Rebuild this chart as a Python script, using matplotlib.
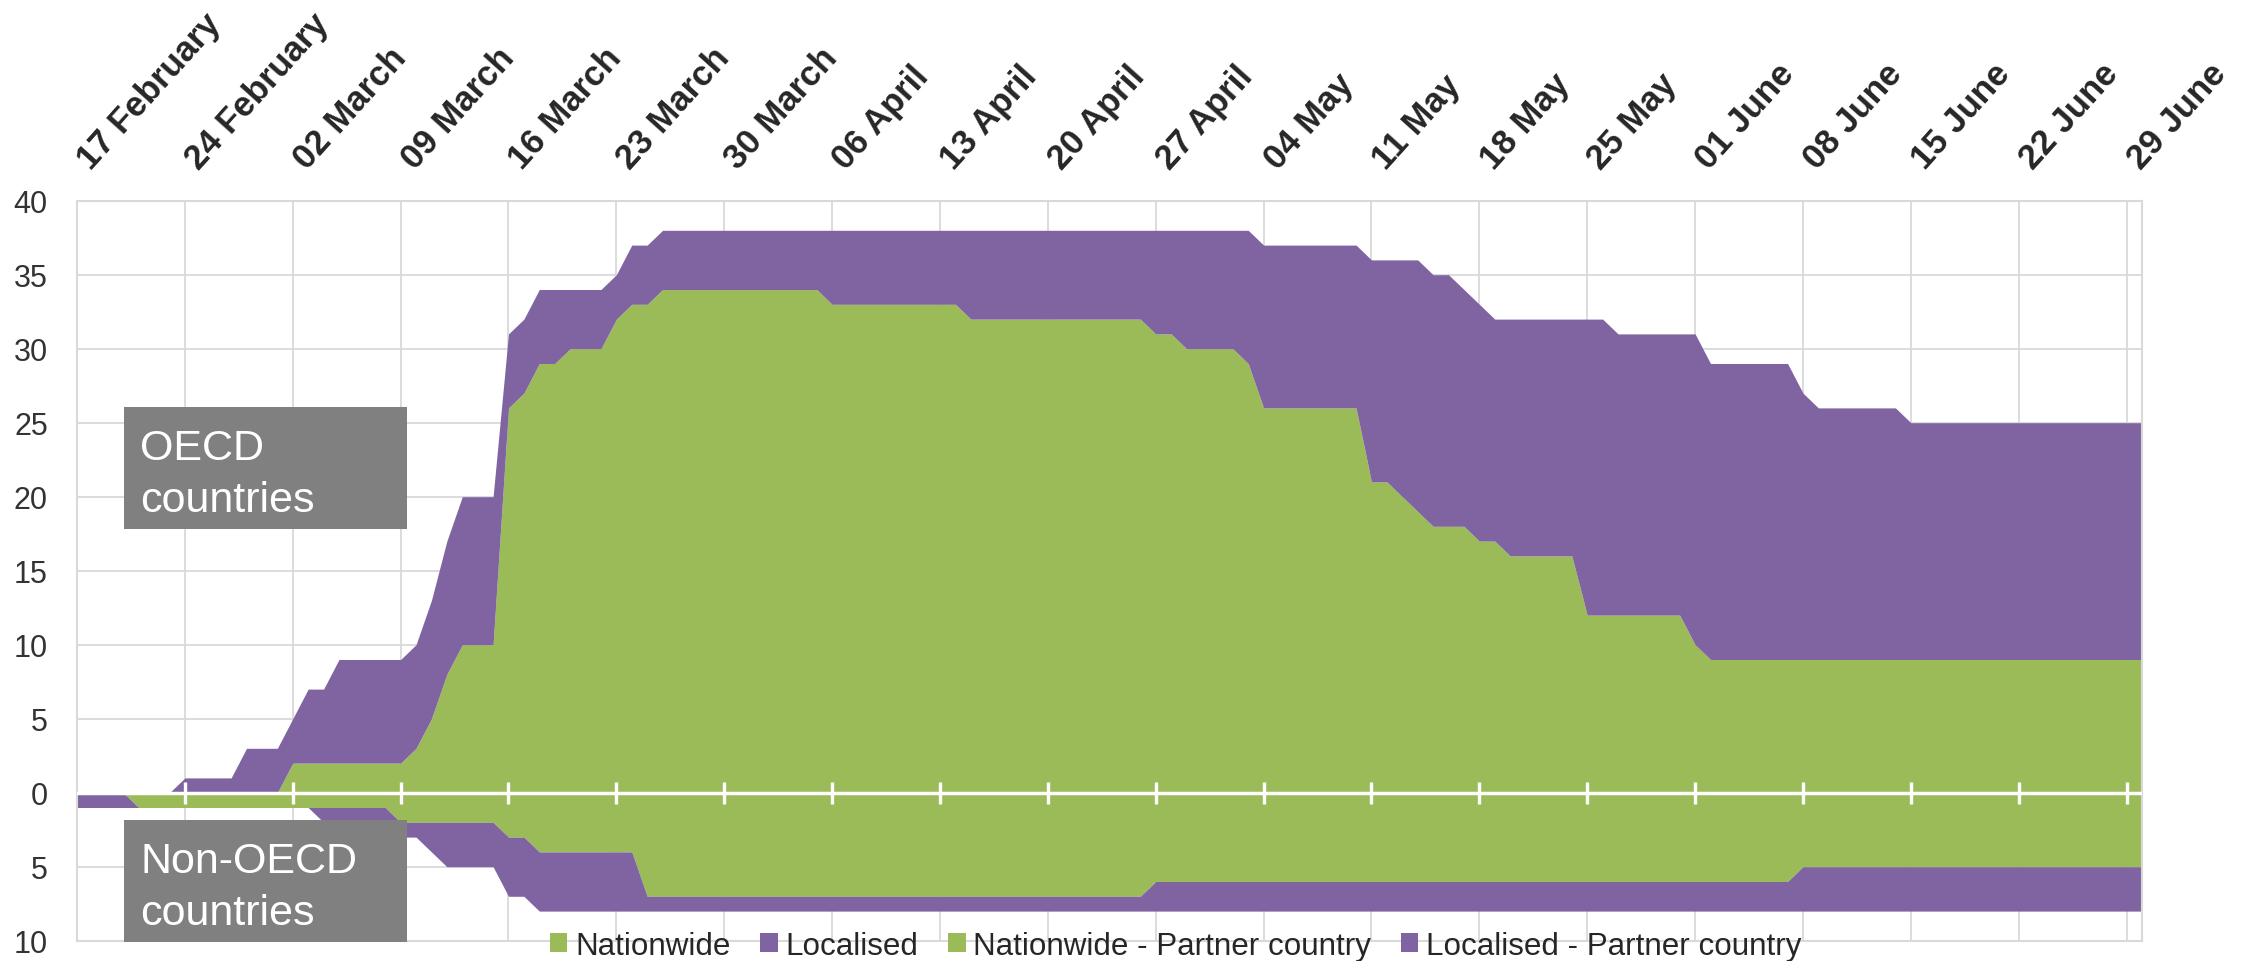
import numpy as np
import pandas as pd
import matplotlib
matplotlib.use("Agg")
import matplotlib.pyplot as plt
import matplotlib.dates as mdates
import matplotlib.transforms as mtransforms
from matplotlib.patches import Rectangle, Patch
from matplotlib.ticker import FuncFormatter

plt.rcParams['font.family'] = ['Liberation Sans', 'DejaVu Sans']

# ---- data: number of countries with containment measures, daily ----
start_date = "2020-02-17"
n_days = 135

# OECD countries (plotted above zero)
nationwide = (
    [0] * 14 + [2] * 8 + [3, 5, 8] + [10] * 3 + [26, 27, 29, 29, 30, 30, 30, 32, 33, 33]
    + [34] * 11 + [33] * 9 + [32] * 12 + [31] * 2 + [30] * 4 + [29] + [26] * 7
    + [21, 21, 20, 19, 18, 18, 18, 17, 17] + [16] * 5 + [12] * 7 + [10] + [9] * 29
)
localised = (
    [0] * 7 + [1] * 4 + [3] * 3 + [3, 5, 5] + [7] * 5 + [7, 8, 9] + [10] * 3
    + [5, 5, 5, 5, 4, 4, 4, 3, 4, 4] + [4] * 11 + [5] * 9 + [6] * 12 + [7] * 2 + [8] * 4
    + [9] + [11] * 7 + [15, 15, 16, 17, 17, 17, 16, 16, 15] + [16] * 5 + [20, 20]
    + [19] * 5 + [21] + [20] * 6 + [18] + [17] * 6 + [16] * 16
)

# Non-OECD partner countries (plotted below zero)
nationwide_partner = (
    [0] * 4 + [1] * 17 + [2] * 7 + [3] * 2 + [4] * 7 + [7] * 33 + [6] * 42 + [5] * 23
)
localised_partner = (
    [1] * 4 + [0] * 12 + [1] * 5 + [1, 1, 2] + [3] * 4 + [4] * 2 + [4] * 7
    + [1] * 33 + [2] * 42 + [3] * 23
)

tick_labels = [
    "17 February", "24 February", "02 March", "09 March", "16 March", "23 March",
    "30 March", "06 April", "13 April", "20 April", "27 April", "04 May", "11 May",
    "18 May", "25 May", "01 June", "08 June", "15 June", "22 June", "29 June",
]
y_ticks = [-10, -5, 0, 5, 10, 15, 20, 25, 30, 35, 40]
series_names = ["Nationwide", "Localised", "Nationwide - Partner country",
                "Localised - Partner country"]

# ---- styling ----
GREEN = "#9BBB59"
PURPLE = "#8064A2"
GRID = "#D9D9D9"
BOX = "#808080"
TEXT = "#262626"

W, H = 2260, 962
fig = plt.figure(figsize=(W / 100, H / 100), dpi=100)
fig.patch.set_facecolor("white")


def fx(px):
    return px / W


def fy(py):
    return 1 - py / H


left, right, top, bottom = 77, 2142, 201.7, 941.7
ax = fig.add_axes([fx(left), fy(bottom), fx(right - left), (bottom - top) / H])

dates = pd.date_range(start_date, periods=n_days, freq="D")
x = mdates.date2num(dates)

nat = np.array(nationwide, dtype=float)
loc = np.array(localised, dtype=float)
natp = np.array(nationwide_partner, dtype=float)
locp = np.array(localised_partner, dtype=float)

# stacked areas: OECD upward, partner countries downward
ax.fill_between(x, 0, nat, color=GREEN, lw=0, zorder=2)
ax.fill_between(x, nat, nat + loc, color=PURPLE, lw=0, zorder=2)
ax.fill_between(x, 0, -natp, color=GREEN, lw=0, zorder=2)
ax.fill_between(x, -natp, -(natp + locp), color=PURPLE, lw=0, zorder=2)

ax.set_xlim(x[0], x[-1])
ax.set_ylim(-10, 40)

# weekly ticks on the top edge, labels slanted upward from each tick
week_ticks = x[::7][:len(tick_labels)]
ax.set_xticks(week_ticks)
ax.set_xticklabels(tick_labels)
ax.xaxis.tick_top()
ax.tick_params(axis="x", length=0, pad=22)
shift = mtransforms.ScaledTranslation(14 / 100, 0, fig.dpi_scale_trans)
for lab in ax.get_xticklabels():
    lab.set_rotation(48)
    lab.set_rotation_mode("anchor")
    lab.set_ha("left")
    lab.set_va("baseline")
    lab.set_fontsize(25)
    lab.set_fontweight("bold")
    lab.set_color(TEXT)
    lab.set_transform(lab.get_transform() + shift)

ax.set_yticks(y_ticks)
ax.yaxis.set_major_formatter(FuncFormatter(lambda v, p: f"{abs(int(round(v)))}"))
ax.tick_params(axis="y", length=0, pad=21, labelsize=22, labelcolor="#333333")

# gridlines
for t in week_ticks[1:]:
    ax.axvline(t, color=GRID, lw=1.3, zorder=1)
for v in y_ticks:
    ax.axhline(v, color=GRID, lw=1.3, zorder=1)
for s in ax.spines.values():
    s.set_color(GRID)
    s.set_linewidth(1.5)

# white zero axis with cross ticks
ax.axhline(0, color="white", lw=2.5, zorder=4)
ax.plot(week_ticks[1:], np.zeros(len(week_ticks) - 1), ls="none", marker="|",
        ms=16, mew=2.4, color="white", zorder=4)

# region labels
for box_top, lines in [(408, ["OECD", "countries"]), (821, ["Non-OECD", "countries"])]:
    fig.add_artist(Rectangle((fx(123.5), fy(box_top + 122.3)), fx(406.6 - 123.5),
                             122.3 / H, transform=fig.transFigure,
                             facecolor=BOX, edgecolor="none", zorder=5))
    for i, line in enumerate(lines):
        fig.text(fx(140), fy(box_top + 52.5 + 52 * i), line, color="white",
                 fontsize=31, ha="left", va="baseline", zorder=6)

# legend
handles = [Patch(facecolor=c, edgecolor="none") for c in [GREEN, PURPLE, GREEN, PURPLE]]
fig.legend(handles, series_names, loc="center", bbox_to_anchor=(fx(1176), fy(947)),
           ncol=4, frameon=False, fontsize=22.6, handlelength=0.55, handleheight=0.55,
           handletextpad=0.25, columnspacing=0.95, labelcolor=TEXT,
           borderpad=0, borderaxespad=0)

fig.savefig("out.png", dpi=100, facecolor="white")
